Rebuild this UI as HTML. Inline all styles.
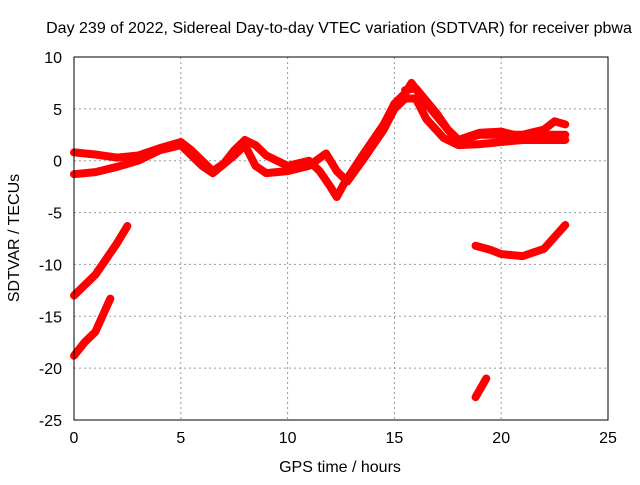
<!DOCTYPE html>
<html><head><meta charset="utf-8"><style>
body{margin:0;background:#fff}
svg text{font-family:"Liberation Sans",sans-serif;font-size:16px;fill:#000}
</style></head><body>
<svg id="c" width="640" height="480" xmlns="http://www.w3.org/2000/svg">
<text x="339" y="33" text-anchor="middle">Day 239 of 2022, Sidereal Day-to-day VTEC variation (SDTVAR) for receiver pbwa</text>
<text x="340" y="472" text-anchor="middle">GPS time / hours</text>
<text transform="translate(19,238) rotate(-90)" text-anchor="middle">SDTVAR / TECUs</text>
<g id="grid"></g><g id="marks"></g>
<rect x="74" y="57" width="534" height="363" fill="none" stroke="#000" stroke-width="1"/>
<g id="ticks"></g>
</svg>
<script>
const xTicks=[0,5,10,15,20,25];
const yTicks=[10,5,0,-5,-10,-15,-20,-25];
const s1x=[0,1,2,3,4,5,5.5,6,6.5,7,7.5,8,8.5,9,10,11,11.5,12,12.3,12.7,13.5,14.5,15,15.5,15.8,16.5,17.5,18,19,20,21,22,22.5,23];
const s1y=[0.8,0.6,0.3,0.5,1.2,1.8,1.0,0,-1,-0.3,1,2,1.5,0.5,-0.5,0,-1,-2.5,-3.5,-2,0.5,3.5,5.5,6.5,7.5,5.5,3,2,2.5,2.5,2.5,3,3.8,3.5];
const s2x=[0,1,2,3,4,5,6,6.5,7.5,8,8.5,9,10,11,11.8,12.3,12.8,13.5,14.5,15,15.5,16,16.5,17.3,18,19,20,21,22,23];
const s2y=[-1.3,-1.1,-0.6,0,1,1.5,-0.5,-1.2,0.5,1.5,-0.5,-1.2,-1,-0.5,0.7,-1,-2,0,3,5,6,6,4,2.2,1.5,1.6,1.8,2,2,2];
const s3x=[15.5,16,17,17.5,18,19,20,21,22,23];
const s3y=[6.8,7,4.5,3,2,2.7,2.8,2.3,2.5,2.5];
const s4x=[0,1,2,2.5];const s4y=[-13,-11,-8,-6.3];
const s5x=[0,0.5,1,1.7];const s5y=[-18.8,-17.5,-16.5,-13.3];
const s6x=[18.8,19.5,20,21,22,23];const s6y=[-8.2,-8.6,-9,-9.2,-8.5,-6.2];
const s7x=[18.8,19.3];const s7y=[-22.8,-21];
const X=v=>74+v*534/25, Y=v=>57+(10-v)*363/35;
const NS="http://www.w3.org/2000/svg";
const grid=document.getElementById('grid'),ticks=document.getElementById('ticks'),marks=document.getElementById('marks');
function mk(t,a,p){const e=document.createElementNS(NS,t);for(const k in a)e.setAttribute(k,a[k]);p.appendChild(e);return e;}
xTicks.forEach(v=>{
 if(v>0&&v<25){const g=mk('line',{x1:X(v),x2:X(v),y1:57,y2:420,stroke:'#999','stroke-dasharray':'2,3'},grid);
 
 }
 const t=mk('text',{x:X(v),y:443,'text-anchor':'middle'},ticks);t.textContent=v;
 
 
});
yTicks.forEach(v=>{
 if(v<10&&v>-25){const g=mk('line',{x1:74,x2:608,y1:Y(v),y2:Y(v),stroke:'#999','stroke-dasharray':'2,3'},grid);
 
 }
 const t=mk('text',{x:62,y:Y(v)+6,'text-anchor':'end'},ticks);t.textContent=v;
 
 
});
[[s1x,s1y],[s2x,s2y],[s3x,s3y],[s4x,s4y],[s5x,s5y],[s6x,s6y],[s7x,s7y]].forEach((s,i)=>{
 const pts=s[0].map((x,j)=>X(x)+','+Y(s[1][j])).join(' ');
 const p=mk('polyline',{points:pts,fill:'none',stroke:'#f00','stroke-width':8,'stroke-linejoin':'round','stroke-linecap':'round'},marks);
 
 
});
</script>
</body></html>
